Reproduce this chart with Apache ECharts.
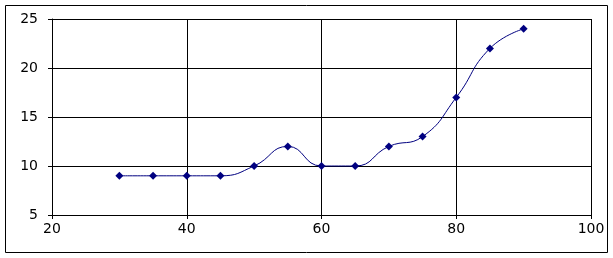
<!DOCTYPE html>
<html><head><meta charset="utf-8">
<script src="https://cdn.jsdelivr.net/npm/echarts@6/dist/echarts.min.js"></script>
<style>html,body{margin:0;padding:0;background:#fff}#c{width:613px;height:258px}</style>
</head><body><div id="c"></div>
<script>
const xValues = [30, 35, 40, 45, 50, 55, 60, 65, 70, 75, 80, 85, 90];
const yValues = [9, 9, 9, 9, 10, 12, 10, 10, 12, 13, 17, 22, 24];
const xTicks = [20, 40, 60, 80, 100];
const yTicks = [5, 10, 15, 20, 25];

const chart = echarts.init(document.getElementById('c'), null, {renderer: 'canvas'});
const font = {fontFamily: 'DejaVu Sans', fontSize: 14, color: '#000'};
chart.setOption({
  animation: false,
  backgroundColor: '#fff',
  graphic: [{type: 'rect', shape: {x: 5.5, y: 5.5, width: 602, height: 247}, style: {fill: 'none', stroke: '#000', lineWidth: 1}}],
  grid: {left: 52, right: 22, top: 19, bottom: 43},
  xAxis: {
    type: 'value', min: xTicks[0], max: xTicks[xTicks.length - 1], interval: 20,
    axisLine: {show: true, onZero: false, lineStyle: {color: '#000', width: 1}},
    axisTick: {show: true, length: 4, lineStyle: {color: '#000'}},
    splitLine: {show: true, lineStyle: {color: '#000', width: 1}},
    axisLabel: Object.assign({margin: 7}, font)
  },
  yAxis: {
    type: 'value', min: yTicks[0], max: yTicks[yTicks.length - 1], interval: 5,
    axisLine: {show: true, onZero: false, lineStyle: {color: '#000', width: 1}},
    axisTick: {show: true, length: 4, lineStyle: {color: '#000'}},
    splitLine: {show: true, lineStyle: {color: '#000', width: 1}},
    axisLabel: Object.assign({margin: 14}, font)
  },
  series: [{
    type: 'line',
    data: xValues.map((x, i) => [x, yValues[i]]),
    smooth: 0.5,
    symbol: 'diamond', symbolSize: 8,
    lineStyle: {color: '#000080', width: 1},
    itemStyle: {color: '#000080'}
  }]
});
</script></body></html>
